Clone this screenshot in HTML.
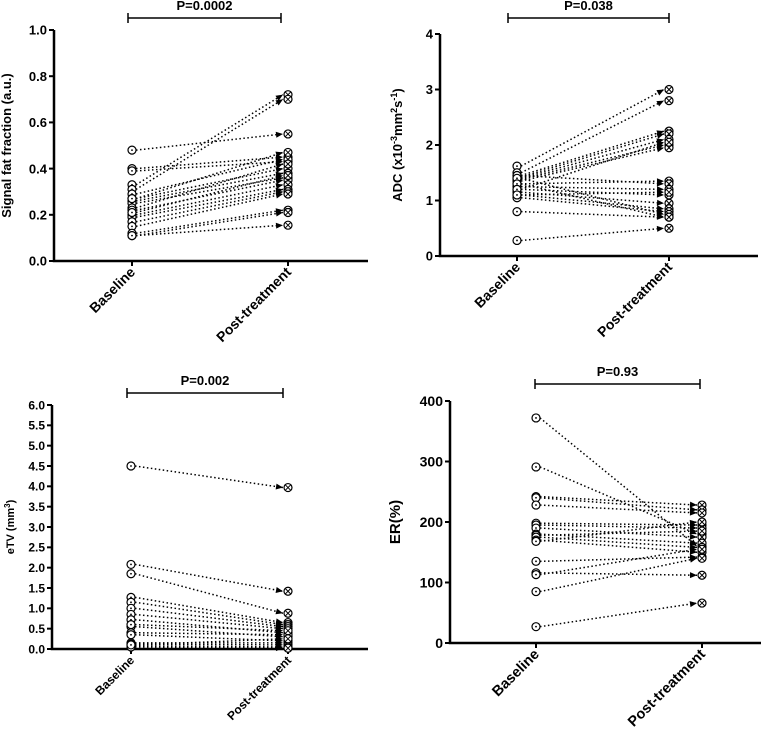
<!DOCTYPE html>
<html><head><meta charset="utf-8"><style>
body{margin:0;background:#fff}
svg text{font-family:"Liberation Sans",Arial,sans-serif;font-weight:bold;fill:#000}
</style></head><body>
<svg id="s" width="761" height="731" viewBox="0 0 761 731"></svg>
<script>
const categories=["Baseline","Post-treatment"];
const sffBase=[0.48,0.40,0.39,0.33,0.31,0.29,0.27,0.26,0.25,0.23,0.22,0.20,0.19,0.17,0.15,0.12,0.11,0.11,0.27,0.21];
const sffPost=[0.55,0.45,0.43,0.72,0.70,0.44,0.40,0.38,0.36,0.42,0.35,0.33,0.31,0.30,0.29,0.22,0.21,0.155,0.47,0.37];
const sffTicks=["0.0","0.2","0.4","0.6","0.8","1.0"];
const adcBase=[1.62,1.5,1.45,1.42,1.4,1.38,1.35,1.3,1.45,1.25,1.2,1.15,1.1,1.05,1.4,1.3,0.8,0.28,1.2,1.1];
const adcPost=[3.0,2.8,2.25,2.2,2.1,2.0,1.95,1.35,1.3,1.2,1.1,0.95,0.85,0.8,0.75,0.7,0.7,0.5,2.05,1.15];
const adcTicks=["0","1","2","3","4"];
const etvBase=[4.5,2.08,1.85,1.27,1.15,1.0,0.85,0.72,0.55,0.4,0.35,0.15,0.12,0.08,0.05,0.6,0.1];
const etvPost=[3.97,1.42,0.88,0.65,0.6,0.55,0.5,0.4,0.3,0.35,0.2,0.15,0.1,0.05,0.02,0.45,0.25];
const etvTicks=["0.0","0.5","1.0","1.5","2.0","2.5","3.0","3.5","4.0","4.5","5.0","5.5","6.0"];
const erBase=[372,291,242,240,228,198,195,190,180,178,175,170,168,135,116,113,85,27];
const erPost=[160,180,228,220,215,195,190,175,165,185,158,150,200,142,112,155,140,66];
const erTicks=["0","100","200","300","400"];

const S=document.getElementById('s');const NS="http://www.w3.org/2000/svg";
function mk(t,a,p){const e=document.createElementNS(NS,t);for(const k in a)e.setAttribute(k,a[k]);(p||S).appendChild(e);return e;}
function panel(o){
  const g=mk('g',{});
  
  
  const ymax=parseFloat(o.ticks[o.ticks.length-1]);
  const y=v=>o.y0-(v/ymax)*(o.y0-o.y1);
  const xs=[o.xb,o.xp];
  const ax=mk('path',{d:`M${o.ax} ${o.y1}V${o.y0}H${o.axEnd}`,stroke:'#000','stroke-width':2.5,fill:'none'},g);
  
  
  o.ticks.forEach(t=>{const v=parseFloat(t),yy=y(v);
    mk('line',{x1:o.ax-5,x2:o.ax,y1:yy,y2:yy,stroke:'#000','stroke-width':2},g);
    const tx=mk('text',{x:o.ax-7,y:yy+o.tf*0.36,'text-anchor':'end','font-size':o.tf},g);tx.textContent=t;
    
    });
  categories.forEach((c,i)=>{
    mk('line',{x1:xs[i],x2:xs[i],y1:o.y0,y2:o.y0+5,stroke:'#000','stroke-width':2},g);
    const tx=mk('text',{transform:`translate(${xs[i]+4},${o.y0+12}) rotate(-45)`,'text-anchor':'end','font-size':o.xf},g);tx.textContent=c;
    
    });
  const yt=mk('text',{transform:`translate(${o.ytx},${(o.y0+o.y1)/2}) rotate(-90)`,'text-anchor':'middle','font-size':o.yf},g);yt.innerHTML=o.title;
  
  
  const br=mk('path',{d:`M${o.bx1} ${o.by-5}V${o.by+5}M${o.bx1} ${o.by}H${o.bx2}M${o.bx2} ${o.by-5}V${o.by+5}`,stroke:'#000','stroke-width':1.5,fill:'none'},g);
  
  
  const pt=mk('text',{x:(o.bx1+o.bx2)/2,y:o.by-8,'text-anchor':'middle','font-size':13},g);pt.textContent=o.p;
  
  
  o.base.forEach((b,i)=>{
    const x1=o.xb+4,y1=y(b),x2=o.xp-5,y2=y(o.post[i]);
    const ln=mk('line',{x1,y1,x2,y2,stroke:'#000','stroke-width':1.5,'stroke-dasharray':'1.5 2.5'},g);
    
    
    const ang=Math.atan2(y2-y1,x2-x1);
    const ah=mk('polygon',{points:`${x2},${y2} ${x2-7*Math.cos(ang)+3*Math.sin(ang)},${y2-7*Math.sin(ang)-3*Math.cos(ang)} ${x2-7*Math.cos(ang)-3*Math.sin(ang)},${y2-7*Math.sin(ang)+3*Math.cos(ang)}`,fill:'#000'},g);
    
    
    const c1=mk('circle',{cx:o.xb,cy:y1,r:4,fill:'#fff',stroke:'#000','stroke-width':1.2},g);
    
    
    mk('circle',{cx:o.xb,cy:y1,r:0.9,fill:'#000'},g);
    const c2=mk('circle',{cx:o.xp,cy:y2,r:4,fill:'#fff',stroke:'#000','stroke-width':1.2},g);
    
    
    mk('path',{d:`M${o.xp-2.5} ${y2-2.5}l5 5M${o.xp+2.5} ${y2-2.5}l-5 5`,stroke:'#000','stroke-width':1},g);
  });
}
panel({name:'signal-fat-fraction-panel',ax:54,axEnd:368,y0:261,y1:30,xb:132,xp:288,ticks:sffTicks,base:sffBase,post:sffPost,title:'Signal fat fraction (a.u.)',ytx:11,tf:13,xf:14,yf:13,bx1:128,bx2:281,by:18,p:'P=0.0002'});
panel({name:'adc-panel',ax:440,axEnd:758,y0:256,y1:34,xb:517,xp:669,ticks:adcTicks,base:adcBase,post:adcPost,title:'ADC (x10<tspan dy="-5" font-size="9">-3</tspan><tspan dy="5">mm</tspan><tspan dy="-5" font-size="9">2</tspan><tspan dy="5">s</tspan><tspan dy="-5" font-size="9">-1</tspan><tspan dy="5">)</tspan>',ytx:402,tf:13,xf:14,yf:13,bx1:508,bx2:669,by:18,p:'P=0.038'});
panel({name:'etv-panel',ax:52,axEnd:368,y0:649,y1:405,xb:131,xp:288,ticks:etvTicks,base:etvBase,post:etvPost,title:'eTV (mm<tspan dy="-4" font-size="8">3</tspan><tspan dy="4">)</tspan>',ytx:14,tf:12,xf:12,yf:11,bx1:127,bx2:283,by:393,p:'P=0.002'});
panel({name:'er-panel',ax:450,axEnd:761,y0:643,y1:401,xb:536,xp:702,ticks:erTicks,base:erBase,post:erPost,title:'ER(%)',ytx:400,tf:14,xf:14.5,yf:15,bx1:535,bx2:700,by:384,p:'P=0.93'});
</script>
</body></html>
